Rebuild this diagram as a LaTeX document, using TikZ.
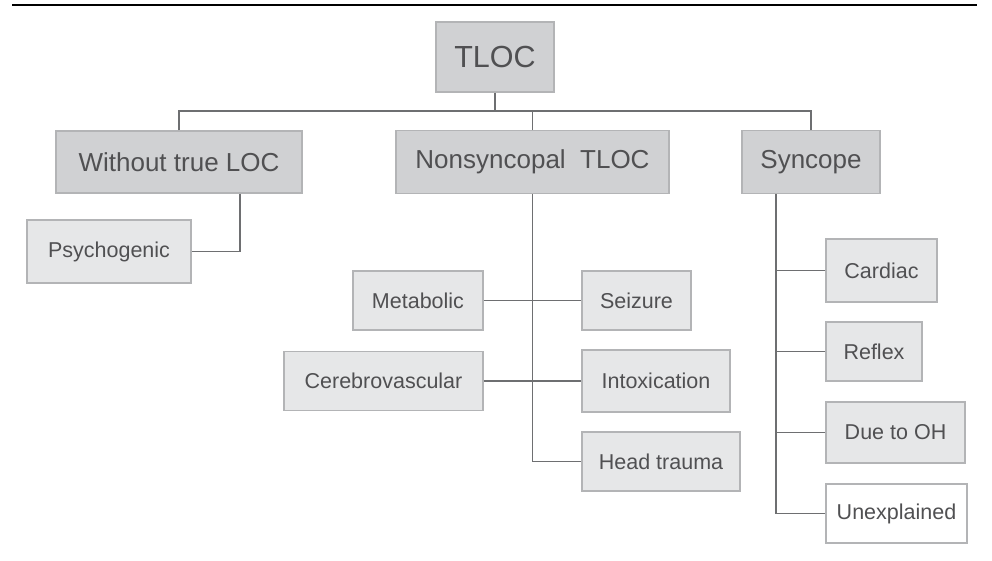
\documentclass[tikz,border=0pt]{standalone}
\usepackage{fontspec}
\setmainfont{Liberation Sans}
\usepackage{xcolor}
\usepackage{tikz}

\definecolor{boxdark}{HTML}{D0D1D3}
\definecolor{boxlight}{HTML}{E6E7E8}
\definecolor{boxline}{HTML}{B3B4B6}
\definecolor{linkline}{HTML}{6E6F71}
\definecolor{textgray}{HTML}{505052}

\tikzset{
	topbox/.style={draw=boxline, line width=1.2pt, fill=boxdark, text=textgray, inner sep=0pt, font=\fontsize{26}{29}\selectfont},
	subbox/.style={draw=boxline, line width=1.2pt, fill=boxlight, text=textgray, inner sep=0pt, font=\fontsize{21.5}{24}\selectfont},
	openbox/.style={subbox, fill=white},
	link/.style={draw=linkline, line width=1.3pt}
}

\begin{document}
\begin{tikzpicture}[x=1pt, y=-1pt]
	\useasboundingbox (0,0) rectangle (992,561);
	\draw[line width=1.6pt] (12,5) -- (977,5);

	% root and first level
	\node[topbox, minimum width=118pt, minimum height=70pt, font=\fontsize{30.5}{34}\selectfont] (tloc) at (495,57) {TLOC};
	\node[topbox, minimum width=246pt, minimum height=62pt] (wtl) at (179,162) {Without true LOC};
	\node[topbox, minimum width=273pt, minimum height=63pt] (nst) at (532.5,162) {Nonsyncopal\ \ TLOC};
	\node[topbox, minimum width=138pt, minimum height=63pt] (syn) at (811,162) {Syncope};

	% second level
	\node[subbox, minimum width=164pt, minimum height=63pt] (psy) at (109,251.5) {Psychogenic};
	\node[subbox, minimum width=130pt, minimum height=59pt] (met) at (418,300.5) {Metabolic};
	\node[subbox, minimum width=109pt, minimum height=59pt] (sei) at (636.5,300.5) {Seizure};
	\node[subbox, minimum width=199pt, minimum height=59pt] (cer) at (383.5,381) {Cerebrovascular};
	\node[subbox, minimum width=148pt, minimum height=62pt] (int) at (656,381) {Intoxication};
	\node[subbox, minimum width=158pt, minimum height=59pt] (hea) at (661,461.5) {Head trauma};
	\node[subbox, minimum width=111pt, minimum height=63pt] (car) at (881.5,270.5) {Cardiac};
	\node[subbox, minimum width=96pt, minimum height=59pt] (ref) at (874,351.5) {Reflex};
	\node[subbox, minimum width=139pt, minimum height=61pt] (due) at (895.5,432.5) {Due to OH};
	\node[openbox, minimum width=141pt, minimum height=59pt] (une) at (896.5,513.5) {Unexplained};

	% connectors
	\coordinate (bar) at (495,111);
	\draw[link] (tloc.south) -- (bar);
	\draw[link] (wtl.north) |- (bar) -| (syn.north);
	\draw[link] (nst.north) -- (nst.north |- bar);
	\draw[link] ([xshift=61pt]wtl.south) |- (psy.east);
	\draw[link] (nst.south) |- (hea.west);
	\draw[link] (met.east) -- (sei.west);
	\draw[link] (cer.east) -- (int.west);
	\coordinate (trunk) at ([xshift=-35pt]syn.south);
	\draw[link] (trunk) |- (une.west);
	\foreach \leaf in {car, ref, due}
		\draw[link] (\leaf.west) -- (\leaf.west -| trunk);
\end{tikzpicture}
\end{document}
